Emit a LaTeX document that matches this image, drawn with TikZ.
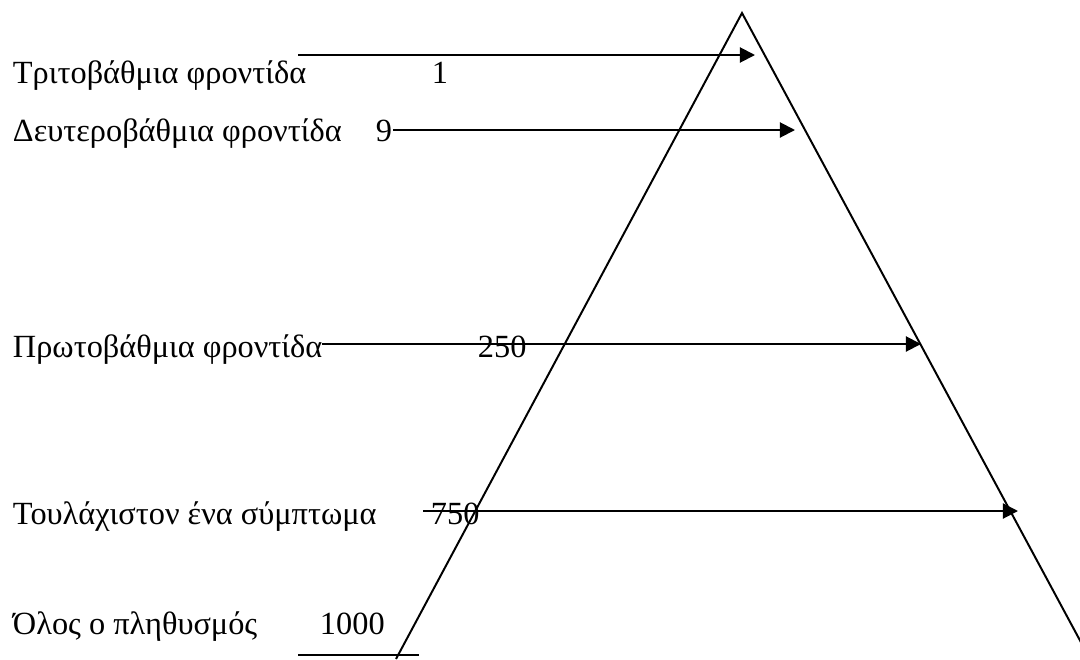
\documentclass[tikz,border=0pt]{standalone}
\usepackage{fontspec}
\setmainfont{Liberation Serif}
\usetikzlibrary{arrows.meta}

\begin{document}
\begin{tikzpicture}[x=0.025cm, y=-0.025cm, line width=1.4pt,
    >={Triangle[length=0.38cm,width=0.38cm]},
    lbl/.style={anchor=base west, inner sep=0pt, font=\fontsize{23}{27}\selectfont}]
    \useasboundingbox (0,0) rectangle (1080,659);

    \coordinate (apex) at (742,13);
    \coordinate (baseL) at (396,659);
    \coordinate (baseR) at (1090,659);
    \draw (baseL) -- (apex) -- (baseR);

    \node[lbl] (tert) at (12,83) {Τριτοβάθμια φροντίδα};
    \node[lbl] (nTert) at (431,83) {1};
    \node[lbl] (sec) at (12,141) {Δευτεροβάθμια φροντίδα};
    \node[lbl] (nSec) at (375,141) {9};
    \node[lbl] (prim) at (12,357) {Πρωτοβάθμια φροντίδα};
    \node[lbl] (nPrim) at (477,357) {250};
    \node[lbl] (symp) at (12,524) {Τουλάχιστον ένα σύμπτωμα};
    \node[lbl] (nSymp) at (430,524) {750};
    \node[lbl] (pop) at (12,634) {Όλος ο πληθυσμός};
    \node[lbl] (nPop) at (319,634) {1000};

    \coordinate (tertS) at (298,55);
    \coordinate (tertE) at (755,55);
    \coordinate (secS) at (393,130);
    \coordinate (secE) at (795,130);
    \coordinate (primS) at (322,344);
    \coordinate (primE) at (921,344);
    \coordinate (sympS) at (423,511);
    \coordinate (sympE) at (1018,511);
    \draw[->] (tertS) -- (tertE);
    \draw[->] (secS) -- (secE);
    \draw[->] (primS) -- (primE);
    \draw[->] (sympS) -- (sympE);

    \coordinate (popS) at (298,655);
    \coordinate (popE) at (419,655);
    \draw (popS) -- (popE);
\end{tikzpicture}
\end{document}
